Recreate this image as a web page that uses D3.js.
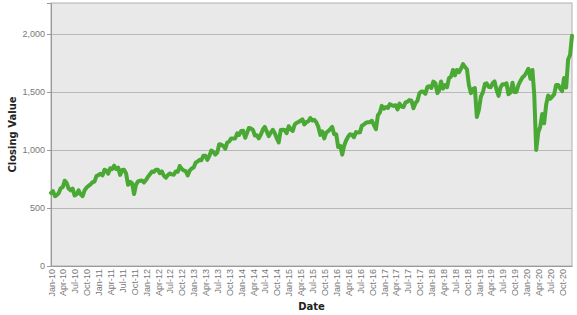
<!DOCTYPE html>
<html>
<head>
<meta charset="utf-8">
<script src="https://cdn.jsdelivr.net/npm/d3@7"></script>
<style>
  body { margin: 0; background: #fff; }
  svg { display: block; font-family: "DejaVu Sans", Verdana, sans-serif; }
</style>
</head>
<body>
<div id="chart"></div>
<script>
// closing values, sampled on the 1st and 16th of each month (Jan..Dec)
const years = [2010, 2011, 2012, 2013, 2014, 2015, 2016, 2017, 2018, 2019, 2020];
const c2010 = [630, 645, 602, 612, 628, 670, 679, 735, 717, 668, 652, 668, 608, 618, 652, 618, 602, 652, 676, 690, 704, 722, 727, 775];
const c2011 = [784, 795, 781, 830, 823, 795, 843, 835, 865, 835, 848, 785, 827, 830, 797, 700, 726, 712, 620, 700, 730, 735, 737, 720];
const c2012 = [741, 770, 792, 815, 810, 830, 830, 800, 816, 780, 761, 782, 798, 790, 786, 815, 812, 862, 837, 825, 818, 780, 822, 840];
const c2013 = [849, 890, 902, 915, 911, 950, 951, 915, 947, 995, 984, 960, 977, 1050, 1045, 1035, 1011, 1065, 1073, 1100, 1100, 1100, 1143, 1130];
const c2014 = [1163, 1165, 1105, 1150, 1190, 1185, 1173, 1125, 1126, 1100, 1134, 1175, 1200, 1160, 1120, 1150, 1174, 1145, 1101, 1065, 1173, 1175, 1173, 1145];
const c2015 = [1205, 1180, 1165, 1220, 1233, 1240, 1252, 1265, 1220, 1240, 1247, 1275, 1254, 1260, 1239, 1200, 1130, 1160, 1100, 1150, 1162, 1180, 1199, 1135];
const c2016 = [1136, 1025, 1035, 960, 1034, 1080, 1114, 1135, 1131, 1110, 1154, 1150, 1152, 1210, 1220, 1235, 1239, 1240, 1252, 1215, 1180, 1300, 1322, 1380];
const c2017 = [1357, 1370, 1362, 1395, 1387, 1380, 1386, 1350, 1400, 1375, 1370, 1410, 1415, 1430, 1425, 1360, 1405, 1425, 1490, 1505, 1502, 1485, 1544, 1550];
const c2018 = [1535, 1590, 1575, 1490, 1512, 1590, 1529, 1560, 1541, 1620, 1633, 1690, 1643, 1690, 1670, 1700, 1740, 1715, 1696, 1560, 1490, 1525, 1533, 1285];
const c2019 = [1348, 1460, 1499, 1570, 1575, 1545, 1540, 1575, 1591, 1520, 1466, 1540, 1567, 1565, 1575, 1480, 1495, 1580, 1500, 1500, 1562, 1595, 1625, 1640];
const c2020 = [1668, 1700, 1614, 1690, 1476, 1000, 1153, 1200, 1310, 1230, 1394, 1470, 1441, 1460, 1480, 1560, 1561, 1530, 1507, 1620, 1538, 1780, 1819, 1985];
const closing = [c2010, c2011, c2012, c2013, c2014, c2015, c2016, c2017, c2018, c2019, c2020];
const yTicks = [0, 500, 1000, 1500, 2000];

const width = 577, height = 315;
const margin = {top: 3, right: 5, bottom: 49, left: 51};

const data = [];
years.forEach((yr, i) => {
  closing[i].forEach((v, j) => {
    data.push({date: new Date(yr, Math.floor(j / 2), j % 2 === 0 ? 1 : 16), value: v});
  });
});

const svg = d3.select("#chart")
  .append("svg")
    .attr("width", width)
    .attr("height", height);

const x = d3.scaleTime()
  .domain(d3.extent(data, d => d.date))
  .range([margin.left, width - margin.right]);

const y = d3.scaleLinear()
  .domain([0, 2267])
  .range([height - margin.bottom, margin.top]);

// plot background
svg.append("rect")
  .attr("x", margin.left)
  .attr("y", margin.top)
  .attr("width", width - margin.left - margin.right)
  .attr("height", height - margin.top - margin.bottom)
  .attr("fill", "#e9e9e9")
  .attr("stroke", "#b0b0b0");

// grid lines
svg.append("g")
  .selectAll("line")
  .data(yTicks.slice(1))
  .join("line")
    .attr("x1", margin.left)
    .attr("x2", width - margin.right)
    .attr("y1", d => Math.round(y(d)) + 0.5)
    .attr("y2", d => Math.round(y(d)) + 0.5)
    .attr("stroke", "#b8b8b8");

// y axis
const yAxis = svg.append("g")
  .attr("transform", `translate(${margin.left},0)`)
  .call(d3.axisLeft(y).tickValues(yTicks).tickFormat(d3.format(",")).tickSize(4).tickPadding(2));
yAxis.select(".domain").attr("stroke", "#999");
yAxis.selectAll(".tick line").attr("stroke", "#999");
yAxis.selectAll("text").attr("fill", "#777").style("font-size", "9px");

// x axis
const xAxis = svg.append("g")
  .attr("transform", `translate(0,${height - margin.bottom})`)
  .call(d3.axisBottom(x).ticks(d3.timeMonth.every(3)).tickFormat(d3.timeFormat("%b-%y")).tickSize(0).tickPadding(3));
xAxis.select(".domain").attr("stroke", "#999");
xAxis.selectAll("text")
  .attr("fill", "#777")
  .style("font-size", "9px")
  .attr("text-anchor", "end")
  .attr("transform", "rotate(-90)")
  .attr("x", -3)
  .attr("y", 0)
  .attr("dy", "0.35em");

// line
const line = d3.line()
  .x(d => x(d.date))
  .y(d => y(d.value));

svg.append("path")
  .datum(data)
  .attr("fill", "none")
  .attr("stroke", "#4aa934")
  .attr("stroke-width", 4)
  .attr("stroke-linejoin", "round")
  .attr("stroke-linecap", "round")
  .attr("d", line);

// axis titles
svg.append("text")
  .attr("transform", `translate(16,${(margin.top + height - margin.bottom) / 2}) rotate(-90)`)
  .attr("text-anchor", "middle")
  .style("font-size", "10px")
  .style("font-weight", "bold")
  .attr("fill", "#222")
  .text("Closing Value");

svg.append("text")
  .attr("x", (margin.left + width - margin.right) / 2)
  .attr("y", 310)
  .attr("text-anchor", "middle")
  .style("font-size", "10px")
  .style("font-weight", "bold")
  .attr("fill", "#222")
  .text("Date");
</script>
</body>
</html>
